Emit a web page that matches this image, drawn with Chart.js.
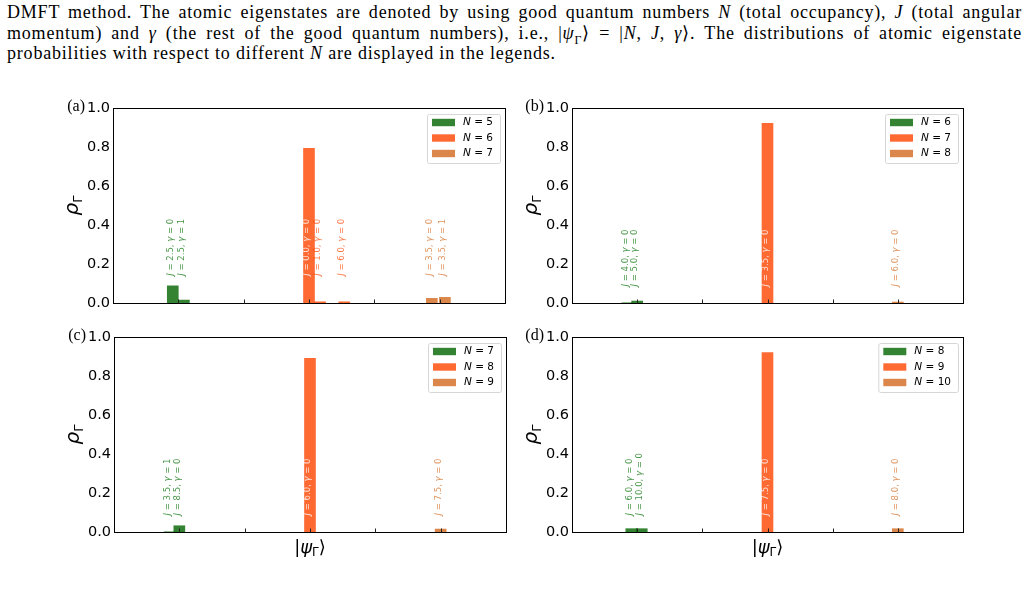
<!DOCTYPE html>
<html>
<head>
<meta charset="utf-8">
<script src="https://cdn.jsdelivr.net/npm/chart.js@4.4.0/dist/chart.umd.min.js"></script>
<style>
    body { margin: 0; width: 1028px; height: 595px; background: #fff; position: relative; overflow: hidden; }
    .cap { position: absolute; left: 7px; width: 1015px; font-family: 'Liberation Serif', serif; font-size: 18px; letter-spacing: 0.8px; line-height: 20.5px; color: #000; white-space: nowrap; }
    .just { text-align: justify; text-align-last: justify; }
    .cap sub { font-size: 12px; line-height: 0; }
    canvas { position: absolute; left: 0; top: 0; }
</style>
</head>
<body>
<div class="cap just" style="top:2px">DMFT method. The atomic eigenstates are denoted by using good quantum numbers <i>N</i> (total occupancy), <i>J</i> (total angular</div>
<div class="cap just" style="top:22.5px">momentum) and <i>γ</i> (the rest of the good quantum numbers), i.e., |<i>ψ</i><sub>Γ</sub>⟩ = |<i>N</i>, <i>J</i>, <i>γ</i>⟩. The distributions of atomic eigenstate</div>
<div class="cap" style="top:43px">probabilities with respect to different <i>N</i> are displayed in the legends.</div>

<canvas id="chartA" width="1028" height="595"></canvas>
<canvas id="chartB" width="1028" height="595"></canvas>
<canvas id="chartC" width="1028" height="595"></canvas>
<canvas id="chartD" width="1028" height="595"></canvas>

<script>
//====================================
// DATOS
//====================================
const yTicks = [0.0, 0.2, 0.4, 0.6, 0.8, 1.0];
const xTicks = [0, 1, 2, 3, 4];

// (a)
const occA = [5, 6, 7];
const posA = [[-0.085, 0.085], [2.0, 2.17, 2.54], [3.88, 4.08]];
const probA = [[0.088, 0.015], [0.793, 0.006, 0.006], [0.024, 0.029]];
const jA = [['2.5', '2.5'], ['0.0', '1.0', '6.0'], ['3.5', '3.5']];
const gammaA = [[0, 1], [0, 0, 0], [0, 1]];

// (b)
const occB = [6, 7, 8];
const posB = [[-0.15, 0.0], [2.0], [4.0]];
const probB = [[0.001, 0.01], [0.922], [0.005]];
const jB = [['4.0', '5.0'], ['3.5'], ['6.0']];
const gammaB = [[0, 0], [0], [0]];

// (c)
const occC = [7, 8, 9];
const posC = [[-0.15, 0.0], [2.0], [4.0]];
const probC = [[0.001, 0.032], [0.89], [0.015]];
const jC = [['3.5', '8.5'], ['6.0'], ['7.5']];
const gammaC = [[1, 0], [0], [0]];

// (d)
const occD = [8, 9, 10];
const posD = [[-0.09, 0.07], [2.0], [4.0]];
const probD = [[0.017, 0.017], [0.92], [0.017]];
const jD = [['6.0', '10.0'], ['7.5'], ['8.0']];
const gammaD = [[0, 0], [0], [0]];

//====================================
// ESTILOS
//====================================
const barColors = ['rgba(0,100,0,0.8)', 'rgba(255,69,0,0.8)', 'rgba(210,105,30,0.8)'];
const textColors = ['rgba(0,110,0,0.72)', 'rgba(255,69,0,0.72)', 'rgba(210,105,30,0.72)'];
const BAR_W = 11;
const SANS = "'DejaVu Sans', sans-serif";

// dibuja un texto compuesto por partes (cursiva / subíndice)
function drawParts(ctx, parts, x, y) {
    let cx = x;
    parts.forEach(p => {
        ctx.font = (p.it ? 'italic ' : '') + p.size + 'px ' + SANS;
        ctx.fillText(p.t, cx, y + (p.dy || 0));
        cx += ctx.measureText(p.t).width;
    });
    return cx - x;
}
function partsWidth(ctx, parts) {
    let w = 0;
    parts.forEach(p => {
        ctx.font = (p.it ? 'italic ' : '') + p.size + 'px ' + SANS;
        w += ctx.measureText(p.t).width;
    });
    return w;
}

//====================================
// PLUGIN DE DECORACION DEL PANEL
//====================================
const panelDecor = {
    id: 'panelDecor',
    afterDatasetsDraw(chart, args, opts) {
        const ctx = chart.ctx;
        const area = chart.chartArea;
        const xs = chart.scales.x, ys = chart.scales.y;
        ctx.save();

        // etiquetas de estados (verticales)
        const base = ys.getPixelForValue(opts.labelBase);
        const labelTop = ys.getPixelForValue(opts.labelBase + 0.32);
        chart.data.datasets.forEach((ds, i) => {
            ds.data.forEach((pt, k) => {
                const px = xs.getPixelForValue(pt.x) - 2;
                // blanco si queda dentro de una barra alta
                let inside = false;
                chart.data.datasets.forEach(d2 => d2.data.forEach(q => {
                    const qx = xs.getPixelForValue(q.x);
                    if (Math.abs(qx - px) < BAR_W / 2 - 1 && ys.getPixelForValue(q.y) < labelTop) inside = true;
                }));
                ctx.fillStyle = inside ? 'rgba(255,255,255,0.8)' : textColors[i];
                ctx.save();
                ctx.translate(px, base);
                ctx.rotate(-Math.PI / 2);
                ctx.textBaseline = 'middle';
                ctx.textAlign = 'left';
                drawParts(ctx, [
                    { t: 'J', it: true, size: 8.5 },
                    { t: ' = ' + opts.jVals[i][k] + ', ', size: 8.5 },
                    { t: 'γ', it: true, size: 8.5 },
                    { t: ' = ' + opts.gVals[i][k], size: 8.5 }
                ], 0, 0);
                ctx.restore();
            });
        });

        // marco
        ctx.strokeStyle = '#000';
        ctx.lineWidth = 1;
        const l = Math.round(area.left) + 0.5, t = Math.round(area.top) + 0.5;
        const r = Math.round(area.right) + 0.5, b = Math.round(area.bottom) + 0.5;
        ctx.strokeRect(l, t, r - l, b - t);

        // ticks hacia adentro
        ctx.strokeStyle = '#222';
        xTicks.forEach(v => {
            const px = Math.round(xs.getPixelForValue(v)) + 0.5;
            ctx.beginPath();
            ctx.moveTo(px, b);
            ctx.lineTo(px, b - 4);
            ctx.stroke();
        });

        // leyenda
        ctx.textBaseline = 'middle';
        ctx.textAlign = 'left';
        const rows = chart.data.datasets.map(ds => [
            { t: 'N', it: true, size: 10.5 }, { t: ' = ' + ds.occ, size: 10.5 }
        ]);
        const tw = Math.max(...rows.map(p => partsWidth(ctx, p)));
        const bw = 5 + 23 + 8 + tw + 7, bh = 49;
        const bx = area.right - 5 - bw, by = area.top + 6;
        ctx.fillStyle = 'rgba(255,255,255,0.8)';
        ctx.strokeStyle = '#d6d6d6';
        ctx.beginPath();
        ctx.roundRect(bx + 0.5, by + 0.5, bw, bh, 2);
        ctx.fill();
        ctx.stroke();
        rows.forEach((p, i) => {
            const cy = by + 8.5 + i * 15.5;
            ctx.fillStyle = barColors[i];
            ctx.fillRect(bx + 5, cy - 3.7, 23, 7.4);
            ctx.fillStyle = '#000';
            drawParts(ctx, p, bx + 36, cy);
        });

        // letra del panel
        ctx.font = "16px 'Liberation Serif', serif";
        ctx.textAlign = 'right';
        ctx.fillStyle = '#000';
        ctx.fillText(opts.letter, area.left - 28, area.top - 1);

        // titulo eje y: rho_Gamma
        ctx.save();
        ctx.translate(area.left - 39, (area.top + area.bottom) / 2);
        ctx.rotate(-Math.PI / 2);
        ctx.textAlign = 'left';
        ctx.textBaseline = 'alphabetic';
        const yParts = [{ t: 'ρ', it: true, size: 20 }, { t: 'Γ', size: 13, dy: 4 }];
        drawParts(ctx, yParts, -partsWidth(ctx, yParts) / 2, 3.5);
        ctx.restore();

        // titulo eje x: |psi_Gamma>
        if (opts.showX) {
            ctx.textAlign = 'left';
            ctx.textBaseline = 'alphabetic';
            const xParts = [
                { t: '|', size: 18 }, { t: 'ψ', it: true, size: 18 },
                { t: 'Γ', size: 12, dy: 3 }, { t: '⟩', size: 18 }
            ];
            const cx = (area.left + area.right) / 2;
            drawParts(ctx, xParts, cx - partsWidth(ctx, xParts) / 2, area.bottom + 21);
        }
        ctx.restore();
    }
};

//====================================
// CONSTRUCCION DE LOS GRAFICOS
//====================================
function buildPanel(canvasId, occ, pos, prob, jVals, gVals, letter, rect, labelBase, showX) {
    const datasets = occ.map((n, i) => ({
        label: 'N = ' + n,
        occ: n,
        data: pos[i].map((x, k) => ({ x: x, y: prob[i][k] })),
        backgroundColor: barColors[i],
        borderWidth: 0,
        barThickness: BAR_W,
        grouped: false
    }));

    new Chart(document.getElementById(canvasId), {
        type: 'bar',
        data: { datasets: datasets },
        options: {
            responsive: false,
            animation: false,
            layout: {
                padding: { left: rect.l - 50, top: rect.t, right: 1028 - rect.r, bottom: 595 - rect.b }
            },
            scales: {
                x: {
                    type: 'linear',
                    min: -1,
                    max: 5,
                    offset: false,
                    grid: { display: false, drawTicks: false },
                    border: { display: false },
                    ticks: { display: false },
                    afterFit: s => { s.height = 0; }
                },
                y: {
                    min: 0,
                    max: 1,
                    grid: { display: false, drawTicks: false },
                    border: { display: false },
                    afterBuildTicks: s => { s.ticks = yTicks.map(v => ({ value: v })); },
                    ticks: {
                        padding: 3,
                        color: '#000',
                        font: { family: SANS, size: 14.5 },
                        callback: v => v.toFixed(1)
                    },
                    afterFit: s => { s.width = 50; }
                }
            },
            plugins: {
                legend: { display: false },
                tooltip: { enabled: false },
                panelDecor: { letter, labelBase, jVals, gVals, showX }
            }
        },
        plugins: [panelDecor]
    });
}

document.addEventListener('DOMContentLoaded', function () {
    buildPanel('chartA', occA, posA, probA, jA, gammaA, '(a)', { l: 113, t: 108, r: 505, b: 303 }, 0.14, false);
    buildPanel('chartB', occB, posB, probB, jB, gammaB, '(b)', { l: 572, t: 108, r: 963, b: 303 }, 0.085, false);
    buildPanel('chartC', occC, posC, probC, jC, gammaC, '(c)', { l: 114, t: 337, r: 506, b: 532 }, 0.085, true);
    buildPanel('chartD', occD, posD, probD, jD, gammaD, '(d)', { l: 572, t: 337, r: 963, b: 532 }, 0.085, true);
});
</script>
</body>
</html>
